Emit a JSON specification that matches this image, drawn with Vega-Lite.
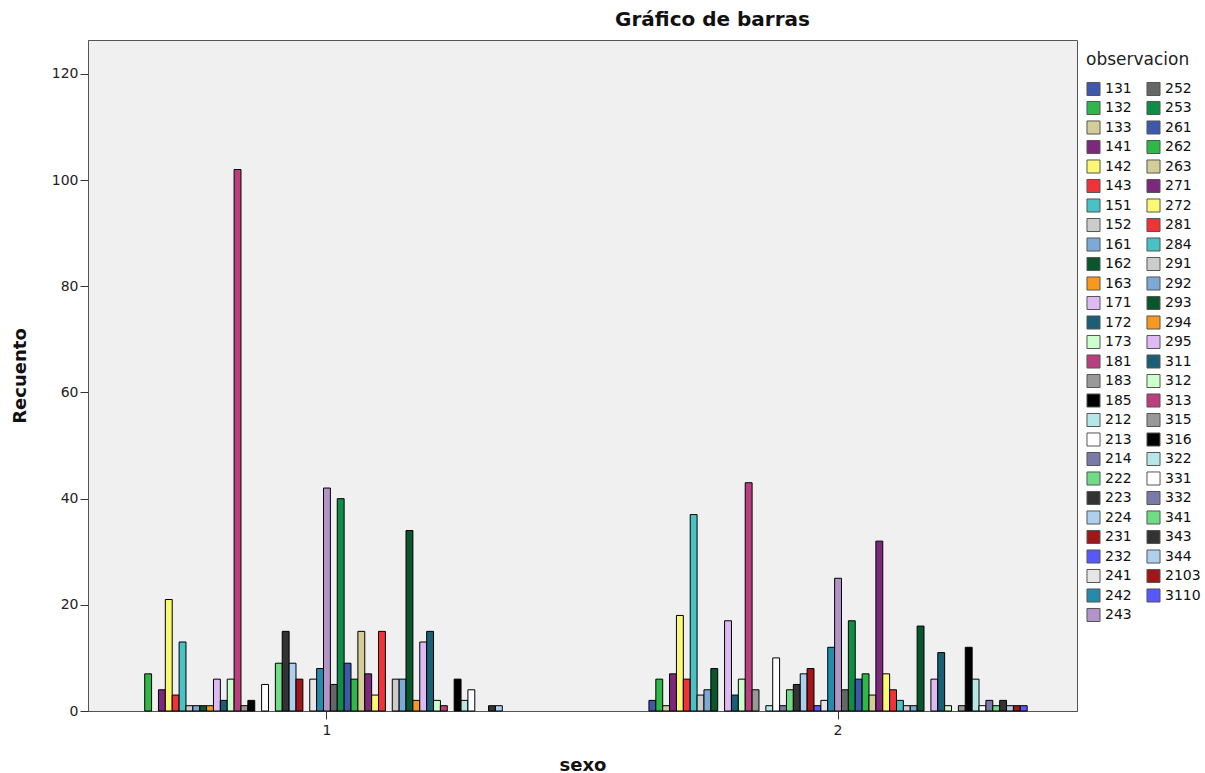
{
  "$schema": "https://vega.github.io/schema/vega-lite/v6.json",
  "autosize": {"type": "none"},
  "width": 989,
  "height": 671,
  "padding": {"left": 88, "top": 40, "right": 128, "bottom": 62},
  "background": "#ffffff",
  "config": {
    "font": "DejaVu Sans",
    "view": {"fill": "#F0F0F0", "stroke": "#555555", "strokeWidth": 1}
  },
  "title": {
    "text": "Gráfico de barras",
    "font": "DejaVu Sans",
    "fontSize": 20,
    "fontWeight": "bold",
    "color": "#111111",
    "anchor": "middle",
    "dx": 130,
    "offset": 10
  },
  "data": {
    "values": [
      {"sexo": "1", "observacion": "132", "recuento": 7},
      {"sexo": "1", "observacion": "141", "recuento": 4},
      {"sexo": "1", "observacion": "142", "recuento": 21},
      {"sexo": "1", "observacion": "143", "recuento": 3},
      {"sexo": "1", "observacion": "151", "recuento": 13},
      {"sexo": "1", "observacion": "152", "recuento": 1},
      {"sexo": "1", "observacion": "161", "recuento": 1},
      {"sexo": "1", "observacion": "162", "recuento": 1},
      {"sexo": "1", "observacion": "163", "recuento": 1},
      {"sexo": "1", "observacion": "171", "recuento": 6},
      {"sexo": "1", "observacion": "172", "recuento": 2},
      {"sexo": "1", "observacion": "173", "recuento": 6},
      {"sexo": "1", "observacion": "181", "recuento": 102},
      {"sexo": "1", "observacion": "183", "recuento": 1},
      {"sexo": "1", "observacion": "185", "recuento": 2},
      {"sexo": "1", "observacion": "213", "recuento": 5},
      {"sexo": "1", "observacion": "222", "recuento": 9},
      {"sexo": "1", "observacion": "223", "recuento": 15},
      {"sexo": "1", "observacion": "224", "recuento": 9},
      {"sexo": "1", "observacion": "231", "recuento": 6},
      {"sexo": "1", "observacion": "241", "recuento": 6},
      {"sexo": "1", "observacion": "242", "recuento": 8},
      {"sexo": "1", "observacion": "243", "recuento": 42},
      {"sexo": "1", "observacion": "252", "recuento": 5},
      {"sexo": "1", "observacion": "253", "recuento": 40},
      {"sexo": "1", "observacion": "261", "recuento": 9},
      {"sexo": "1", "observacion": "262", "recuento": 6},
      {"sexo": "1", "observacion": "263", "recuento": 15},
      {"sexo": "1", "observacion": "271", "recuento": 7},
      {"sexo": "1", "observacion": "272", "recuento": 3},
      {"sexo": "1", "observacion": "281", "recuento": 15},
      {"sexo": "1", "observacion": "291", "recuento": 6},
      {"sexo": "1", "observacion": "292", "recuento": 6},
      {"sexo": "1", "observacion": "293", "recuento": 34},
      {"sexo": "1", "observacion": "294", "recuento": 2},
      {"sexo": "1", "observacion": "295", "recuento": 13},
      {"sexo": "1", "observacion": "311", "recuento": 15},
      {"sexo": "1", "observacion": "312", "recuento": 2},
      {"sexo": "1", "observacion": "313", "recuento": 1},
      {"sexo": "1", "observacion": "316", "recuento": 6},
      {"sexo": "1", "observacion": "322", "recuento": 2},
      {"sexo": "1", "observacion": "331", "recuento": 4},
      {"sexo": "1", "observacion": "343", "recuento": 1},
      {"sexo": "1", "observacion": "344", "recuento": 1},
      {"sexo": "2", "observacion": "131", "recuento": 2},
      {"sexo": "2", "observacion": "132", "recuento": 6},
      {"sexo": "2", "observacion": "133", "recuento": 1},
      {"sexo": "2", "observacion": "141", "recuento": 7},
      {"sexo": "2", "observacion": "142", "recuento": 18},
      {"sexo": "2", "observacion": "143", "recuento": 6},
      {"sexo": "2", "observacion": "151", "recuento": 37},
      {"sexo": "2", "observacion": "152", "recuento": 3},
      {"sexo": "2", "observacion": "161", "recuento": 4},
      {"sexo": "2", "observacion": "162", "recuento": 8},
      {"sexo": "2", "observacion": "171", "recuento": 17},
      {"sexo": "2", "observacion": "172", "recuento": 3},
      {"sexo": "2", "observacion": "173", "recuento": 6},
      {"sexo": "2", "observacion": "181", "recuento": 43},
      {"sexo": "2", "observacion": "183", "recuento": 4},
      {"sexo": "2", "observacion": "212", "recuento": 1},
      {"sexo": "2", "observacion": "213", "recuento": 10},
      {"sexo": "2", "observacion": "214", "recuento": 1},
      {"sexo": "2", "observacion": "222", "recuento": 4},
      {"sexo": "2", "observacion": "223", "recuento": 5},
      {"sexo": "2", "observacion": "224", "recuento": 7},
      {"sexo": "2", "observacion": "231", "recuento": 8},
      {"sexo": "2", "observacion": "232", "recuento": 1},
      {"sexo": "2", "observacion": "241", "recuento": 2},
      {"sexo": "2", "observacion": "242", "recuento": 12},
      {"sexo": "2", "observacion": "243", "recuento": 25},
      {"sexo": "2", "observacion": "252", "recuento": 4},
      {"sexo": "2", "observacion": "253", "recuento": 17},
      {"sexo": "2", "observacion": "261", "recuento": 6},
      {"sexo": "2", "observacion": "262", "recuento": 7},
      {"sexo": "2", "observacion": "263", "recuento": 3},
      {"sexo": "2", "observacion": "271", "recuento": 32},
      {"sexo": "2", "observacion": "272", "recuento": 7},
      {"sexo": "2", "observacion": "281", "recuento": 4},
      {"sexo": "2", "observacion": "284", "recuento": 2},
      {"sexo": "2", "observacion": "291", "recuento": 1},
      {"sexo": "2", "observacion": "292", "recuento": 1},
      {"sexo": "2", "observacion": "293", "recuento": 16},
      {"sexo": "2", "observacion": "295", "recuento": 6},
      {"sexo": "2", "observacion": "311", "recuento": 11},
      {"sexo": "2", "observacion": "312", "recuento": 1},
      {"sexo": "2", "observacion": "315", "recuento": 1},
      {"sexo": "2", "observacion": "316", "recuento": 12},
      {"sexo": "2", "observacion": "322", "recuento": 6},
      {"sexo": "2", "observacion": "331", "recuento": 1},
      {"sexo": "2", "observacion": "332", "recuento": 2},
      {"sexo": "2", "observacion": "341", "recuento": 1},
      {"sexo": "2", "observacion": "343", "recuento": 2},
      {"sexo": "2", "observacion": "344", "recuento": 1},
      {"sexo": "2", "observacion": "2103", "recuento": 1},
      {"sexo": "2", "observacion": "3110", "recuento": 1}
    ]
  },
  "mark": {"type": "bar", "stroke": "#000000", "strokeWidth": 1},
  "encoding": {
    "x": {
      "field": "sexo",
      "type": "nominal",
      "scale": {"domain": ["1", "2"], "paddingInner": 0.26, "paddingOuter": 0.0975},
      "axis": {
        "title": "sexo",
        "titleFont": "DejaVu Sans",
        "titleFontSize": 18,
        "titleFontWeight": "bold",
        "titleColor": "#111111",
        "titlePadding": 19,
        "labelAngle": 0,
        "labelFont": "DejaVu Sans",
        "labelFontSize": 14,
        "labelColor": "#222222",
        "labelPadding": 4,
        "tickColor": "#333333",
        "tickSize": 8,
        "domainColor": "#555555"
      }
    },
    "xOffset": {
      "field": "observacion",
      "type": "nominal",
      "scale": {
        "domain": ["131","132","133","141","142","143","151","152","161","162","163","171","172","173","181","183","185","212","213","214","222","223","224","231","232","241","242","243","252","253","261","262","263","271","272","281","284","291","292","293","294","295","311","312","313","315","316","322","331","332","341","343","344","2103","3110"],
        "paddingInner": 0,
        "paddingOuter": 0
      }
    },
    "y": {
      "field": "recuento",
      "type": "quantitative",
      "scale": {"domain": [0, 126.4], "nice": false},
      "axis": {
        "title": "Recuento",
        "titleFont": "DejaVu Sans",
        "titleFontSize": 18,
        "titleFontWeight": "bold",
        "titleColor": "#111111",
        "titlePadding": 22,
        "values": [0, 20, 40, 60, 80, 100, 120],
        "grid": false,
        "labelFont": "DejaVu Sans",
        "labelFontSize": 14,
        "labelColor": "#222222",
        "labelPadding": 2,
        "tickColor": "#333333",
        "tickSize": 8,
        "domainColor": "#555555"
      }
    },
    "color": {
      "field": "observacion",
      "type": "nominal",
      "scale": {
        "domain": ["131","132","133","141","142","143","151","152","161","162","163","171","172","173","181","183","185","212","213","214","222","223","224","231","232","241","242","243","252","253","261","262","263","271","272","281","284","291","292","293","294","295","311","312","313","315","316","322","331","332","341","343","344","2103","3110"],
        "range": ["#3E58AC","#2EB848","#D3CE97","#7C287D","#FBF873","#EF3338","#48C2C5","#CCCCCC","#7AAAD5","#0A562C","#F8981D","#DDBAF1","#1A5F76","#CCFFCC","#BB3F7F","#999999","#000000","#B6E7E8","#FFFFFF","#797AA7","#70DC84","#333333","#ACD0EE","#A21619","#5858FF","#E6E6E6","#248BAC","#B294C7","#666666","#0D8D46","#3E58AC","#2EB848","#D3CE97","#7C287D","#FBF873","#EF3338","#48C2C5","#CCCCCC","#7AAAD5","#0A562C","#F8981D","#DDBAF1","#1A5F76","#CCFFCC","#BB3F7F","#999999","#000000","#B6E7E8","#FFFFFF","#797AA7","#70DC84","#333333","#ACD0EE","#A21619","#5858FF"]
      },
      "legend": {
        "title": "observacion",
        "orient": "none",
        "legendX": 998,
        "legendY": 12,
        "columns": 2,
        "direction": "vertical",
        "padding": 0,
        "symbolLimit": 100,
        "symbolType": "square",
        "symbolSize": 170,
        "symbolStrokeColor": "#555555",
        "symbolStrokeWidth": 1,
        "titleFont": "DejaVu Sans",
        "titleFontSize": 17,
        "titleFontWeight": "normal",
        "titleColor": "#222222",
        "titlePadding": 12,
        "labelFont": "DejaVu Sans",
        "labelFontSize": 14,
        "labelColor": "#111111",
        "labelOffset": 4,
        "rowPadding": 0.5,
        "columnPadding": 12
      }
    }
  }
}
